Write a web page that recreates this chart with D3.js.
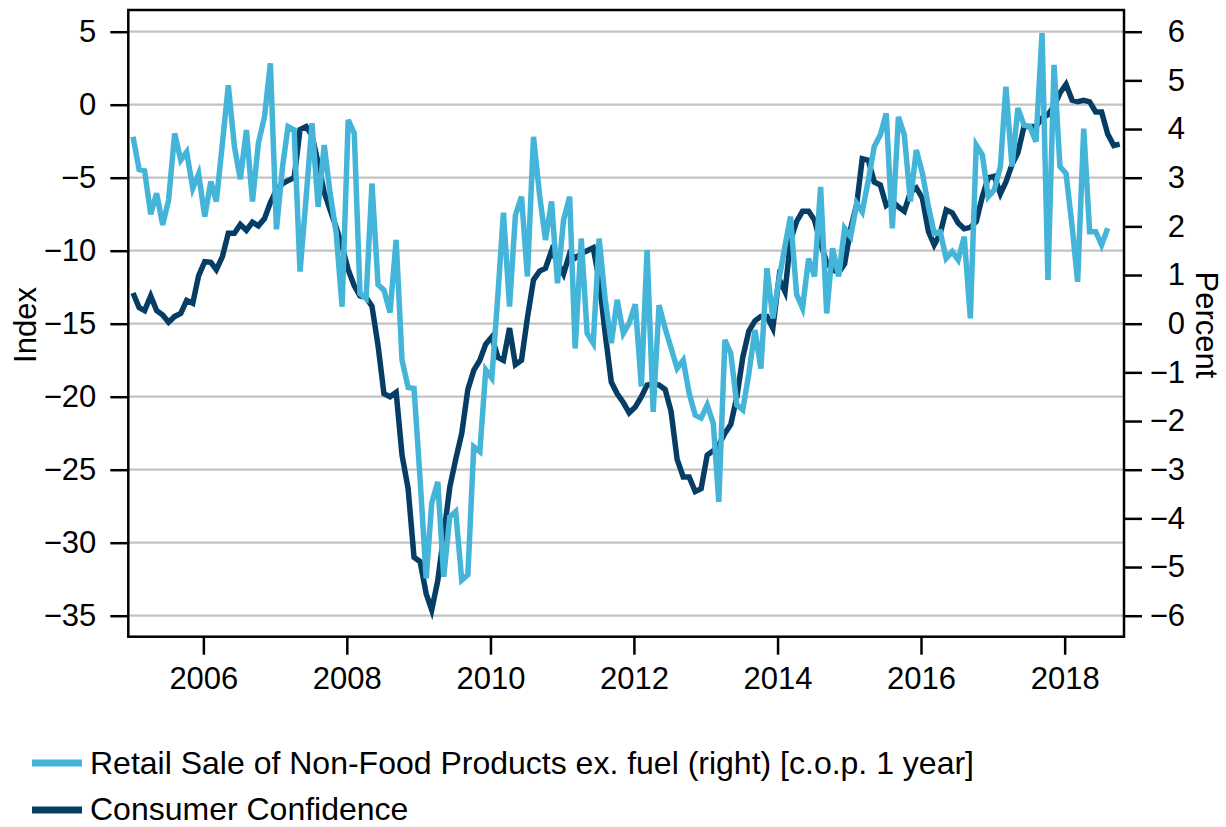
<!DOCTYPE html>
<html>
<head>
<meta charset="utf-8">
<script src="https://cdn.jsdelivr.net/npm/d3@7"></script>
<style>
  body { margin: 0; background: #fff; }
  svg text { font-family: "Liberation Sans", Arial, sans-serif; fill: #000; }
</style>
</head>
<body>
<div id="chart"></div>
<script>
// monthly series, first value = Jan 2005
const startYear = 2005
const confidence = [
  -12.9, -13.9, -14.1, -13.1, -14.1, -14.4, -14.9, -14.5, -14.3, -13.4, -13.6, -11.7,
  -10.75, -10.8, -11.3, -10.4, -8.8, -8.8, -8.2, -8.6, -8.05, -8.3, -7.8, -6.7,
  -5.85, -5.4, -5.2, -5.0, -1.7, -1.5, -2.1, -4.0, -6.0, -7.2, -8.4, -9.7,
  -11.3, -12.4, -13.1, -13.2, -13.8, -16.5, -19.8, -20.0, -19.7, -24.0, -26.3, -31.0,
  -31.3, -33.5, -34.6, -32.6, -29.5, -26.2, -24.3, -22.5, -19.5, -18.2, -17.5, -16.4,
  -15.9, -17.3, -17.5, -15.3, -17.8, -17.5, -14.6, -12.0, -11.4, -11.2, -10.0, -10.8,
  -11.6, -10.2, -10.5, -10.2, -10.0, -9.8, -12.0, -15.7, -19.0, -19.8, -20.4, -21.1,
  -20.7, -20.0, -19.2, -19.1, -19.2, -19.5, -21.0, -24.3, -25.5, -25.5, -26.5, -26.3,
  -24.0, -23.7, -23.3, -22.5, -21.9, -20.0, -17.3, -15.5, -14.8, -14.5, -14.5, -15.3,
  -11.9, -12.8, -9.3, -8.0, -7.3, -7.3, -7.9, -9.5, -10.8, -11.3, -11.5, -10.9,
  -8.5, -6.8, -3.7, -3.8, -5.3, -5.5, -6.9, -6.6, -7.0, -7.3, -6.0, -5.7,
  -6.4, -8.7, -9.6, -8.8, -7.2, -7.4, -8.1, -8.5, -8.4, -8.0, -6.3, -5.0,
  -4.9, -6.1, -5.3, -4.1, -3.3, -1.5, -1.5, -1.5, -0.9, -0.7, -0.1, 0.8,
  1.4, 0.3, 0.2, 0.3, 0.2, -0.5, -0.5, -2.0, -2.8, -2.7
]
const retail = [
  3.84, 3.17, 3.14, 2.25, 2.68, 2.03, 2.54, 3.91, 3.36, 3.53, 2.78, 3.08,
  2.2, 2.92, 2.51, 3.71, 4.9, 3.64, 2.97, 3.98, 2.51, 3.71, 4.25, 5.35,
  1.94, 3.23, 4.05, 3.98, 1.07, 2.6, 4.12, 2.4, 3.67, 2.68, 1.86, 0.35,
  4.19, 3.91, 0.62, 0.52, 2.88, 0.8, 0.69, 0.23, 1.72, -0.75, -1.31, -1.33,
  -3.2, -5.23, -3.69, -3.25, -5.2, -3.97, -3.86, -5.27, -5.16, -2.53, -2.63, -0.95,
  -1.12, 0.6, 2.28, 0.35, 2.23, 2.61, 0.97, 3.84, 2.64, 1.72, 2.51, 0.83,
  2.13, 2.61, -0.51, 1.75, -0.2, -0.4, 1.75, 0.49, -0.4, 0.49, -0.2, 0.01,
  0.4, -1.29, 1.51, -1.81, 0.38, -0.1, -0.5, -0.92, -0.75, -1.43, -1.88, -1.94,
  -1.67, -2.05, -3.66, -0.33, -0.61, -1.67, -1.77, -1.02, -0.13, -0.92, 1.14, 0.11,
  0.9, 1.6, 2.2, 0.6, 0.32, 1.34, 0.97, 2.81, 0.21, 1.55, 0.97, 1.96,
  1.79, 2.47, 2.3, 2.95, 3.64, 3.88, 4.32, 1.96, 4.25, 3.88, 2.51, 3.57,
  3.09, 2.4, 1.86, 1.89, 1.34, 1.48, 1.31, 1.79, 0.11, 3.67, 3.47, 2.61,
  2.75, 3.23, 4.87, 3.23, 4.43, 4.08, 4.05, 3.74, 5.97, 0.9, 5.32, 3.23,
  3.09, 2.0, 0.86, 4.01, 1.89, 1.89, 1.62, 1.96
]
const leftTicks = [-35, -30, -25, -20, -15, -10, -5, 0, 5]
const rightTicks = [-6, -5, -4, -3, -2, -1, 0, 1, 2, 3, 4, 5, 6]
const yearTicks = [2006, 2008, 2010, 2012, 2014, 2016, 2018]
const seriesNames = ["Retail Sale of Non-Food Products ex. fuel (right) [c.o.p. 1 year]", "Consumer Confidence"]

const colors = { retail: "#44b5d9", confidence: "#063d64" }
const frame = { left: 128.3, right: 1124, top: 10, bottom: 636.7 }
const fontSize = 31

const svg = d3.select("#chart").append("svg")
  .attr("width", 1226)
  .attr("height", 827)

const x = d3.scaleTime()
  .domain([new Date(2004, 11, 15), new Date(2018, 9, 30)])
  .range([frame.left, frame.right])
const yLeft = d3.scaleLinear().domain([-35, 5]).range([615.7, 31.7])
const yRight = d3.scaleLinear().domain([-6, 6]).range([615.7, 31.7])

const monthDate = i => new Date(startYear, i, 8)

// gridlines
svg.append("g")
  .selectAll("line")
  .data(leftTicks)
  .join("line")
  .attr("x1", frame.left)
  .attr("x2", frame.right)
  .attr("y1", d => yLeft(d))
  .attr("y2", d => yLeft(d))
  .style("stroke", "#c3c3c3")
  .style("stroke-width", 2.2)

// lines
const lineLeft = d3.line().x((d, i) => x(monthDate(i))).y(d => yLeft(d))
const lineRight = d3.line().x((d, i) => x(monthDate(i))).y(d => yRight(d))

svg.append("path")
  .datum(confidence)
  .attr("d", lineLeft)
  .style("fill", "none")
  .style("stroke", colors.confidence)
  .style("stroke-width", 5.5)

svg.append("path")
  .datum(retail)
  .attr("d", lineRight)
  .style("fill", "none")
  .style("stroke", colors.retail)
  .style("stroke-width", 5.5)

// frame
svg.append("rect")
  .attr("x", frame.left)
  .attr("y", frame.top)
  .attr("width", frame.right - frame.left)
  .attr("height", frame.bottom - frame.top)
  .style("fill", "none")
  .style("stroke", "#000")
  .style("stroke-width", 2.5)

// axes
const styleAxis = g => {
  g.select(".domain").remove()
  g.selectAll(".tick line").style("stroke", "#000").style("stroke-width", 2.5)
  g.selectAll(".tick text").style("font-size", fontSize + "px").style("font-family", "Liberation Sans, Arial, sans-serif")
}

svg.append("g")
  .attr("transform", `translate(${frame.left},0)`)
  .call(d3.axisLeft(yLeft).tickValues(leftTicks).tickSize(18).tickPadding(14))
  .call(styleAxis)

svg.append("g")
  .attr("transform", `translate(${frame.right},0)`)
  .call(d3.axisRight(yRight).tickValues(rightTicks).tickSize(18).tickPadding(14))
  .call(styleAxis)
  .selectAll(".tick text")
  .attr("text-anchor", "end")
  .attr("x", 61)

svg.append("g")
  .attr("transform", `translate(0,${frame.bottom})`)
  .call(d3.axisBottom(x).tickValues(yearTicks.map(y => new Date(y, 0, 1))).tickFormat(d3.timeFormat("%Y")).tickSize(18).tickPadding(12))
  .call(styleAxis)

// axis titles
svg.append("text")
  .attr("transform", "translate(36,325) rotate(-90)")
  .attr("text-anchor", "middle")
  .style("font-size", fontSize + "px")
  .text("Index")

svg.append("text")
  .attr("transform", "translate(1196,325) rotate(90)")
  .attr("text-anchor", "middle")
  .style("font-size", fontSize + "px")
  .text("Percent")

// legend
const legend = svg.append("g")
  .attr("transform", "translate(32,763)")

legend.selectAll("line")
  .data([colors.retail, colors.confidence])
  .join("line")
  .attr("x1", 0)
  .attr("x2", 50)
  .attr("y1", (d, i) => i * 47)
  .attr("y2", (d, i) => i * 47)
  .style("stroke", d => d)
  .style("stroke-width", 7)

legend.selectAll("text")
  .data(seriesNames)
  .join("text")
  .attr("x", 58)
  .attr("y", (d, i) => i * 46)
  .attr("dy", "0.35em")
  .style("font-size", "32px")
  .text(d => d)
</script>
</body>
</html>
